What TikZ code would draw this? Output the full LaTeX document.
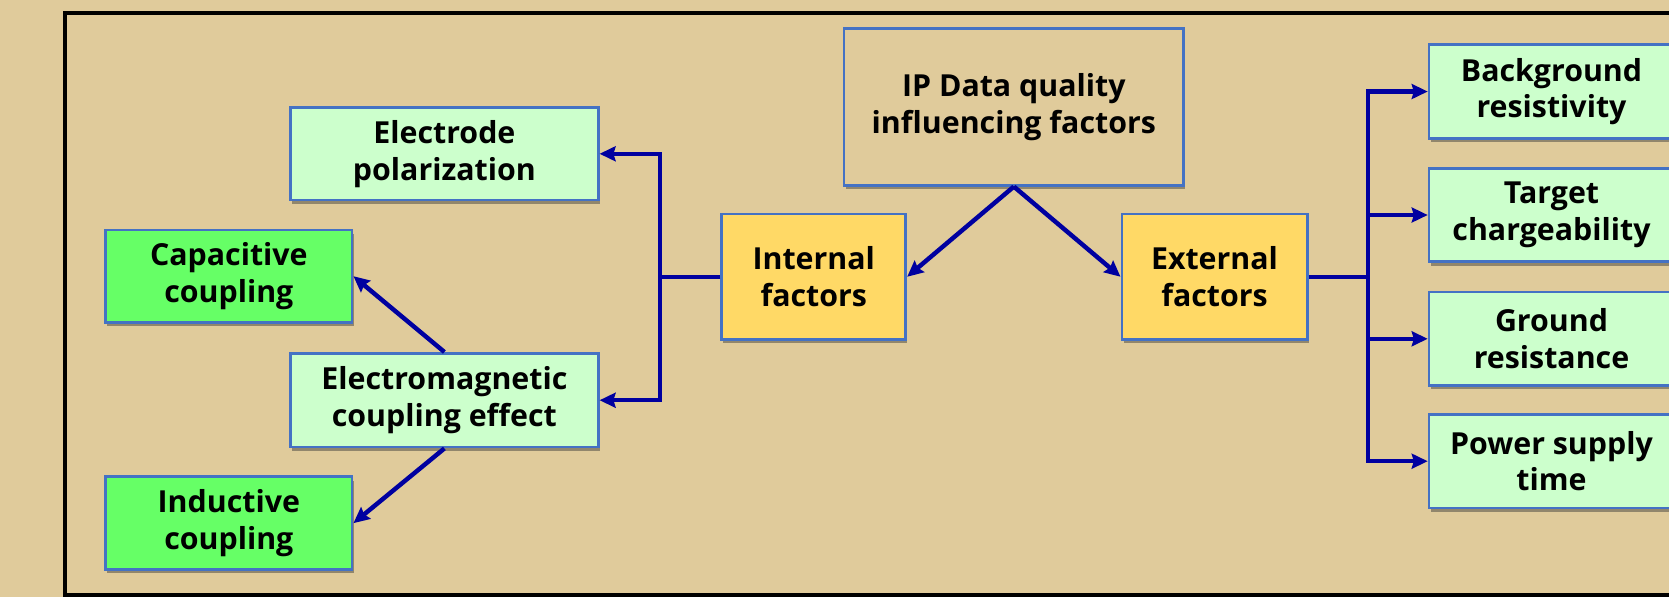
\documentclass[tikz,border=0pt]{standalone}
\usepackage{fontspec}
\setmainfont{Open Sans}
\usetikzlibrary{arrows.meta,shadows,positioning}

\definecolor{paper}{RGB}{224,203,155}
\definecolor{edgeblue}{RGB}{68,114,196}
\definecolor{mint}{RGB}{204,255,204}
\definecolor{lime}{RGB}{102,255,102}
\definecolor{gold}{RGB}{255,217,102}
\definecolor{wire}{RGB}{0,0,160}

\tikzset{
  label font/.style={font=\fontsize{28.5}{34.5}\selectfont\bfseries},
  box/.style={draw=edgeblue, line width=2.6pt, align=center, inner sep=0pt, label font,
    drop shadow={shadow xshift=1.5pt, shadow yshift=-3.5pt, opacity=0.45, fill=black!80}},
  leafbox/.style={box, fill=mint},
  couplebox/.style={box, fill=lime},
  groupbox/.style={box, fill=gold},
  wireline/.style={draw=wire, line width=4.2pt},
  wirearrow/.style={wireline, -{Stealth[length=15pt, width=14pt, inset=2pt]}},
}

\begin{document}
\begin{tikzpicture}[x=1pt, y=-1pt]
  % page and frame
  \fill[paper] (0,0) rectangle (1568,561);
  \useasboundingbox (0,0) rectangle (1568,561);
  \draw[black, line width=4pt] (1620,12.5) -- (61,12.5) -- (61,559) -- (1620,559);

  % top node
  \node[box, fill=paper, minimum width=319pt, minimum height=147pt] (ip) at (952.5,100.5)
    {IP Data quality\\influencing factors};

  % main groups
  \node[groupbox, minimum width=173pt, minimum height=118pt] (int) at (764.5,260) {Internal\\factors};
  \node[groupbox, minimum width=174pt, minimum height=118pt] (ext) at (1141,260) {External\\factors};

  % internal branch
  \node[leafbox, minimum width=289pt, minimum height=87pt] (elec) at (417.5,144.5) {Electrode\\polarization};
  \node[leafbox, minimum width=289pt, minimum height=88pt] (em) at (417.5,376) {Electromagnetic\\coupling effect};
  \node[couplebox, minimum width=231.5pt, minimum height=87pt] (cap) at (215,259.5) {Capacitive\\coupling};
  \node[couplebox, minimum width=231.5pt, minimum height=87pt] (ind) at (215,491.5) {Inductive\\coupling};

  % external branch
  \node[leafbox, minimum width=230pt, minimum height=88pt] (bg) at (1457.6,86) {Background\\resistivity};
  \node[leafbox, minimum width=230pt, minimum height=88pt] (tc) at (1457.6,202) {Target\\chargeability};
  \node[leafbox, minimum width=230pt, minimum height=88pt] (gr) at (1457.6,318.3) {Ground\\resistance};
  \node[leafbox, minimum width=230pt, minimum height=88pt] (pw) at (1457.6,433.3) {Power supply\\time};

  % bus points
  \coordinate (busL) at (620,260);
  \coordinate (busR) at (1285,260);

  % connectors
  \draw[wirearrow] (ip.south) -- (int.east);
  \draw[wirearrow] (ip.south) -- (ext.west);

  \draw[wireline] (int.west) -- (busL);
  \draw[wirearrow] (busL) |- (elec.east);
  \draw[wirearrow] (busL) |- (em.east);
  \draw[wirearrow] (em.north) -- (cap.east);
  \draw[wirearrow] (em.south) -- (ind.east);

  \draw[wireline] (ext.east) -- (busR);
  \draw[wirearrow] (busR) |- (bg.west);
  \draw[wirearrow] (busR) |- (tc.west);
  \draw[wirearrow] (busR) |- (gr.west);
  \draw[wirearrow] (busR) |- (pw.west);
\end{tikzpicture}
\end{document}
